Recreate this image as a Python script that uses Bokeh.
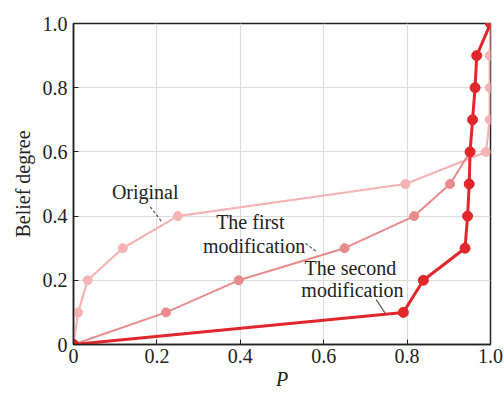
from bokeh.plotting import figure
from bokeh.models import Label, FixedTicker
from bokeh.embed import file_html
from bokeh.resources import INLINE

# Data
belief = [0.0, 0.1, 0.2, 0.3, 0.4, 0.5, 0.6, 0.7, 0.8, 0.9, 1.0]
p_original = [0.0, 0.011, 0.034, 0.118, 0.25, 0.796, 0.989, 0.998, 0.998, 0.998, 1.0]
belief_first = [0.0, 0.1, 0.2, 0.3, 0.4, 0.5, 0.6]
p_first = [0.0, 0.222, 0.396, 0.65, 0.817, 0.903, 0.951]
p_second = [0.0, 0.791, 0.839, 0.939, 0.945, 0.949, 0.951, 0.957, 0.963, 0.967, 1.0]

ticks = [0.0, 0.2, 0.4, 0.6, 0.8, 1.0]
tick_labels = {0.0: "0", 0.2: "0.2", 0.4: "0.4", 0.6: "0.6", 0.8: "0.8", 1.0: "1.0"}

# annotation texts and anchor positions (data units)
ann_text = ["Original", "The first", "modification", "The second", "modification"]
ann_x = [0.172, 0.424, 0.433, 0.664, 0.669]
ann_y = [0.474, 0.381, 0.308, 0.238, 0.169]
lead_x0 = [0.184, 0.556, 0.726]
lead_y0 = [0.429, 0.315, 0.140]
lead_x1 = [0.212, 0.584, 0.747]
lead_y1 = [0.382, 0.288, 0.098]
lead_dash = ["3 2", "3 2", "solid"]

c_orig = "#f5b3b4"
c_first = "#e98a8d"
c_second = "#e0272b"

FONT = "Liberation Serif"

p = figure(frame_width=417, frame_height=321, x_range=(0, 1), y_range=(0, 1),
           output_backend="svg", toolbar_location=None,
           min_border_left=73, min_border_right=14, min_border_top=23, min_border_bottom=49)
p.outline_line_color = "#222222"
p.outline_line_width = 1.5
p.background_fill_color = "white"
p.border_fill_color = "white"

for ax in (p.xaxis[0], p.yaxis[0]):
    ax.ticker = FixedTicker(ticks=ticks)
    ax.major_label_overrides = tick_labels
    ax.major_label_text_font = FONT
    ax.major_label_text_font_size = "20px"
    ax.major_label_text_color = "#222222"
    ax.axis_label_text_font = FONT
    ax.axis_label_text_font_size = "20px"
    ax.axis_label_text_color = "#222222"
    ax.axis_line_color = "#222222"
    ax.axis_line_width = 1.5
    ax.major_tick_in = 5
    ax.major_tick_out = 0
    ax.major_tick_line_color = "#222222"
    ax.minor_tick_line_color = None
    ax.major_label_standoff = 6

p.xaxis.axis_label = "P"
p.xaxis.axis_label_text_font_style = "italic"
p.xaxis.axis_label_standoff = 2
p.yaxis.axis_label = "Belief degree"
p.yaxis.axis_label_text_font_style = "normal"
p.yaxis.axis_label_standoff = 6
p.xaxis.major_label_standoff = 4

p.xgrid.grid_line_color = "#dcdcdc"
p.ygrid.grid_line_color = "#dcdcdc"
p.xgrid.grid_line_width = 1.2
p.ygrid.grid_line_width = 1.2

p.line(p_original, belief, line_color=c_orig, line_width=2.2)
p.scatter(p_original, belief, size=9, fill_color=c_orig, line_color=c_orig)
p.line(p_first, belief_first, line_color=c_first, line_width=2)
p.scatter(p_first, belief_first, size=9, fill_color=c_first, line_color=c_first)
p.line(p_second, belief, line_color=c_second, line_width=3)
p.scatter(p_second, belief, size=10, fill_color=c_second, line_color=c_second)

for i in range(3):
    p.segment(x0=[lead_x0[i]], y0=[lead_y0[i]], x1=[lead_x1[i]], y1=[lead_y1[i]],
              line_color="#555555", line_width=1.2, line_dash=lead_dash[i])

for t, x, y in zip(ann_text, ann_x, ann_y):
    p.add_layout(Label(x=x, y=y, text=t, text_align="center", text_baseline="middle",
                       text_font=FONT, text_font_size="20px", text_color="#222222"))

open("out.html", "w").write(file_html(p, INLINE))
